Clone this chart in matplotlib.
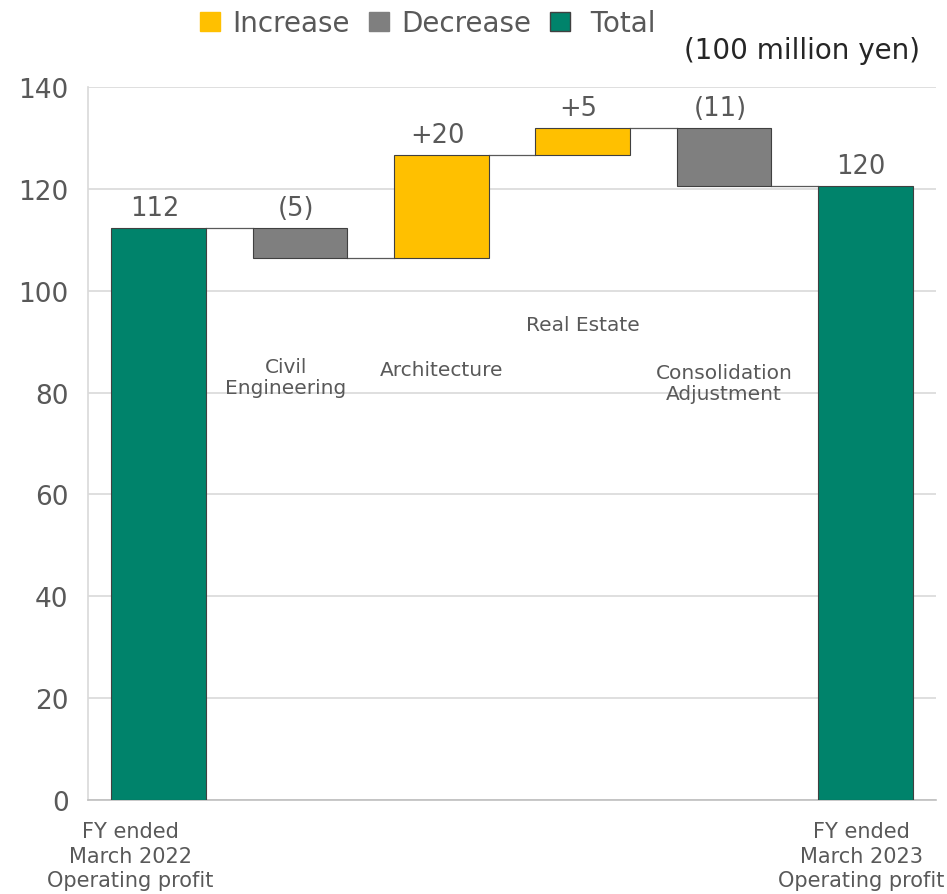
import matplotlib
matplotlib.use("Agg")
import matplotlib.pyplot as plt
from matplotlib.patches import Patch

# ---- data ----
start_total = 112.3
deltas = [-5.9, 20.2, 5.3, -11.3]
end_total = 120.6
value_labels = ["112", "(5)", "+20", "+5", "(11)", "120"]
inner_categories = ["Civil\nEngineering", "Architecture", "Real Estate", "Consolidation\nAdjustment"]
inner_label_y = [83, 84.6, 93.3, 81.9]
edge_labels = ["FY ended\nMarch 2022\nOperating profit",
               "FY ended\nMarch 2023\nOperating profit"]
yticks = [0, 20, 40, 60, 80, 100, 120, 140]

C_INC = "#FFC000"
C_DEC = "#7F7F7F"
C_TOT = "#00836B"
C_TXT = "#595959"
C_GRID = "#D9D9D9"

fig = plt.figure(figsize=(9.47, 8.95), dpi=100)
ax = fig.add_axes([88/947, 1-801/895, (936-88)/947, (801-88)/895])

width = 0.67
bottoms, heights, colors = [], [], []
bottoms.append(0); heights.append(start_total); colors.append(C_TOT)
level = start_total
levels_after = [start_total]
for d in deltas:
    if d >= 0:
        bottoms.append(level); heights.append(d); colors.append(C_INC)
    else:
        bottoms.append(level + d); heights.append(-d); colors.append(C_DEC)
    level += d
    levels_after.append(level)
bottoms.append(0); heights.append(end_total); colors.append(C_TOT)
levels_after.append(end_total)

xs = list(range(len(heights)))
ax.bar(xs, heights, bottom=bottoms, width=width, color=colors,
       edgecolor="#404040", linewidth=0.8, zorder=3)

# connectors
for i in range(len(xs) - 1):
    lv = levels_after[i]
    ax.plot([xs[i] + width/2, xs[i+1] - width/2], [lv, lv],
            color="#595959", lw=0.9, zorder=2)

# value labels
for i, lab in enumerate(value_labels):
    top = bottoms[i] + heights[i]
    if i in (1, 4):
        top = levels_after[i-1]
    ax.annotate(lab, (xs[i], top), xytext=(-3, 5), textcoords="offset points",
                ha="center", va="bottom", fontsize=18.5, color=C_TXT)

# inner category labels
for j, (lab, yy) in enumerate(zip(inner_categories, inner_label_y)):
    xoff = -0.1 if j == 0 else 0
    ax.text(xs[j+1] + xoff, yy, lab, ha="center", va="center", fontsize=14.5,
            color=C_TXT, linespacing=1.15)

ax.set_xlim(-0.5, 5.5)
ax.set_ylim(0, 140)
ax.set_yticks(yticks)
ax.tick_params(axis="y", length=0, labelsize=19, labelcolor=C_TXT, pad=14)
ax.set_xticks([])
ax.grid(axis="y", color=C_GRID, lw=1.2, zorder=0)
ax.set_axisbelow(True)
for s in ["top", "right"]:
    ax.spines[s].set_visible(False)
ax.spines["left"].set_color(C_GRID)
ax.spines["left"].set_linewidth(1.2)
ax.spines["bottom"].set_color("#BFBFBF")
ax.spines["bottom"].set_linewidth(1.2)

# edge (x axis) labels
ax.text(-0.2, -4.2, edge_labels[0], ha="center", va="top", fontsize=15,
        color=C_TXT, clip_on=False, linespacing=1.28)
ax.text(4.97, -4.2, edge_labels[1], ha="center", va="top", fontsize=15,
        color=C_TXT, clip_on=False, linespacing=1.28)

# legend
handles = [Patch(facecolor=C_INC, edgecolor=C_INC, label="Increase"),
           Patch(facecolor=C_DEC, edgecolor=C_DEC, label="Decrease"),
           Patch(facecolor=C_TOT, edgecolor="#404040", label=" Total")]
leg = fig.legend(handles=handles, loc="center", bbox_to_anchor=(0.452, 0.973), ncol=3,
                 frameon=False, fontsize=20, handlelength=0.7, handleheight=0.7,
                 handletextpad=0.45, columnspacing=0.7, labelcolor=C_TXT)

fig.text(920/947, 1-51/895, "(100 million yen)", ha="right", va="center",
         fontsize=20, color="#262626")

fig.savefig("out.png", dpi=100)
